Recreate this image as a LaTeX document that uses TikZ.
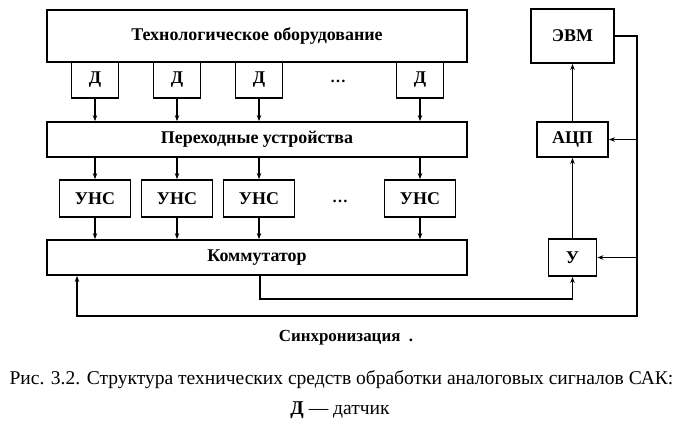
\documentclass[tikz,border=0pt]{standalone}
\usepackage{fontspec}
\setmainfont{Liberation Serif}
\usepackage{tikz}
\usetikzlibrary{arrows.meta, % for small filled tips
                positioning}

\begin{document}
\begin{tikzpicture}[x=1bp, y=-1bp,
                    Block/.style={draw, line width=1.8bp, rectangle, inner sep=0pt,
                                  font=\fontsize{18}{20}\selectfont\bfseries},
                    Wide/.style={Block, minimum width=420bp, minimum height=35bp},
                    signal/.style={line width=1.4bp, -{Stealth[length=6bp, width=4.5bp]}}
                    ]
    \useasboundingbox (0,0) rectangle (682,424);

    % MAIN COLUMN %
    \node[Wide, minimum height=52bp] (Tech) at (257,36) {Технологическое оборудование};
    \node[Wide] (Per) at (257,139.5) {Переходные устройства};
    \node[Wide] (Kom) at (257,257.5) {Коммутатор};

    % SENSORS AND AMPLIFIERS %
    \foreach \x/\px in {1/95, 2/177, 3/259, 4/420}{
    \node[Block, minimum width=47bp, minimum height=36bp] (D\x) at (\px,80) {Д};
    \node[Block, minimum width=71bp, minimum height=37bp] (Uns\x) at (\px,198.5) {УНС};
    \draw[signal] (D\x) -- (D\x |- Per.north);
    \draw[signal] (Per.south -| Uns\x) -- (Uns\x);
    \draw[signal] (Uns\x) -- (Uns\x |- Kom.north);
    }
    \node[anchor=base] (Dots1) at (338,82) {\fontsize{16}{16}\selectfont\bfseries\dots};
    \node[anchor=base] (Dots2) at (340,202) {\fontsize{16}{16}\selectfont\bfseries\dots};

    % COMPUTER BRANCH %
    \node[Block, minimum width=83bp, minimum height=54bp] (Evm) at (572.5,36) {ЭВМ};
    \node[Block, minimum width=71bp, minimum height=35bp] (Acp) at (572.5,139.5) {АЦП};
    \node[Block, minimum width=48bp, minimum height=37bp] (U) at (572.5,257.5) {У};

    \draw[signal] (U) -- (Acp);
    \draw[signal] (Acp) -- (Evm);

    \coordinate (Out) at (260,299);
    \draw[signal] (Kom.south -| Out) -- (Out) -| (U.south);

    % SYNC LOOP %
    \coordinate (SyncR) at (637,316);
    \coordinate (SyncL) at (77,316);
    \draw[signal] (Evm.east) -| (SyncR) -- (SyncL) -- (SyncL |- Kom.south);
    \draw[signal] (SyncR |- Acp.east) -- (Acp.east);
    \draw[signal] (SyncR |- U.east) -- (U.east);

    % TEXTS %
    \node[font=\fontsize{17}{19}\selectfont\bfseries] (Sync) at (346,338) {Синхронизация\ \ .};
    \node[font=\fontsize{19.6}{22}\selectfont] (Cap) at (341.5,380)
        {Рис. 3.2. Структура технических средств обработки аналоговых сигналов САК:};
    \node[font=\fontsize{19.6}{22}\selectfont] (Cap2) at (340,410) {\textbf{Д} --- датчик};
\end{tikzpicture}
\end{document}
